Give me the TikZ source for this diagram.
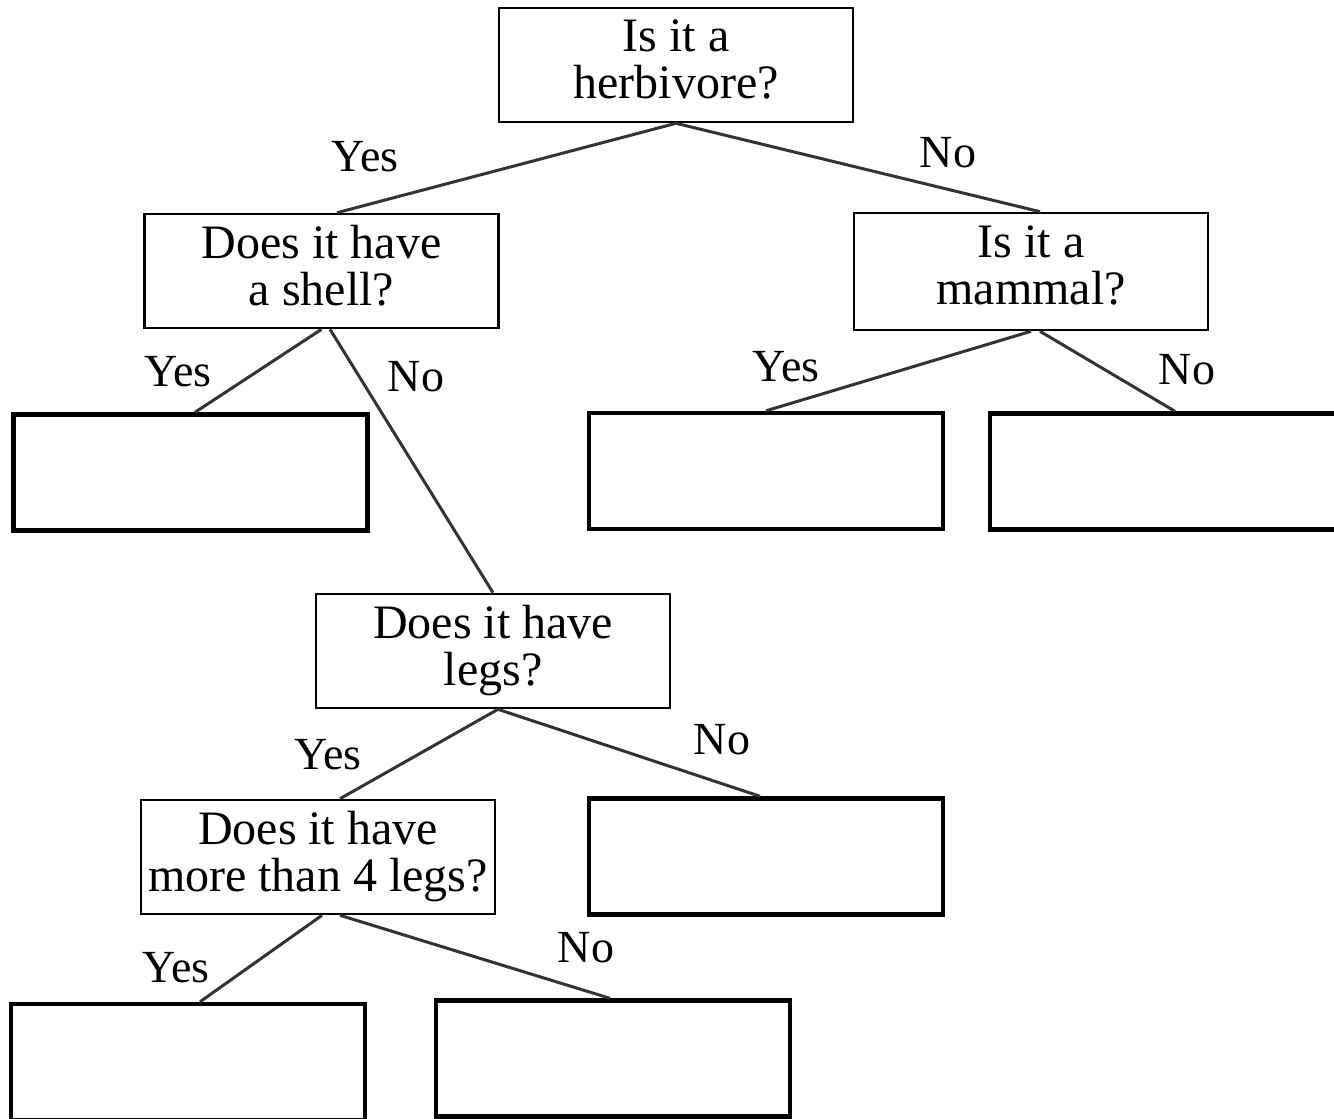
\documentclass[tikz,border=0pt]{standalone}
\usepackage{fontspec}
\setmainfont{Liberation Serif}
\begin{document}
\begin{tikzpicture}[x=0.5pt,y=-0.5pt,
  qbox/.style={draw=black, line width=1.3pt, minimum width=177pt, minimum height=57pt, inner sep=0pt, align=center, text depth=6pt, font=\fontsize{24pt}{23.5pt}\selectfont},
  ebox/.style={draw=black, line width=2.2pt, minimum width=177pt, minimum height=58pt, inner sep=0pt},
  conn/.style={draw=black!80, line width=1.5pt},
  lab/.style={font=\fontsize{23pt}{23pt}\selectfont, inner sep=0pt}]
\useasboundingbox (0,0) rectangle (1334,1119);
\node[qbox] (herb) at (676,65) {Is it a\\herbivore?};
\node[qbox] (shell) at (321.5,271) {Does it have\\a shell?};
\node[qbox, minimum height=58.5pt] (mammal) at (1031,271.5) {Is it a\\mammal?};
\node[ebox] (e1) at (190.5,472.5) {};
\node[ebox] (e2) at (766,471) {};
\node[ebox] (e3) at (1167,471.5) {};
\node[qbox] (legs) at (493,651) {Does it have\\legs?};
\node[qbox] (more) at (318,857) {Does it have\\more than 4 legs?};
\node[ebox] (e4) at (766,856.5) {};
\node[ebox] (e5) at (188,1062) {};
\node[ebox] (e6) at (613,1058.5) {};
\draw[conn] (herb.south) -- ([xshift=7.75pt]shell.north);
\draw[conn] (herb.south) -- ([xshift=4.5pt]mammal.north);
\draw[conn] (shell.south) -- ([xshift=2.25pt]e1.north);
\draw[conn] ([xshift=4.25pt]shell.south) -- (legs.north);
\draw[conn] (mammal.south) -- (e2.north);
\draw[conn] ([xshift=4.5pt]mammal.south) -- ([xshift=4pt]e3.north);
\draw[conn] ([xshift=2.5pt]legs.south) -- ([xshift=11pt]more.north);
\draw[conn] ([xshift=2.5pt]legs.south) -- ([xshift=-3pt]e4.north);
\draw[conn] ([xshift=2pt]more.south) -- ([xshift=6pt]e5.north);
\draw[conn] ([xshift=11pt]more.south) -- ([xshift=-1.5pt]e6.north);
\node[lab] (l1) at (365,157) {Yes};
\node[lab] (l2) at (948,153) {No};
\node[lab] (l3) at (178,372) {Yes};
\node[lab] (l4) at (416,377) {No};
\node[lab] (l5) at (786,367) {Yes};
\node[lab] (l6) at (1187,370) {No};
\node[lab] (l7) at (328,755) {Yes};
\node[lab] (l8) at (722,740) {No};
\node[lab] (l9) at (176,968) {Yes};
\node[lab] (l10) at (586,948) {No};
\end{tikzpicture}
\end{document}
